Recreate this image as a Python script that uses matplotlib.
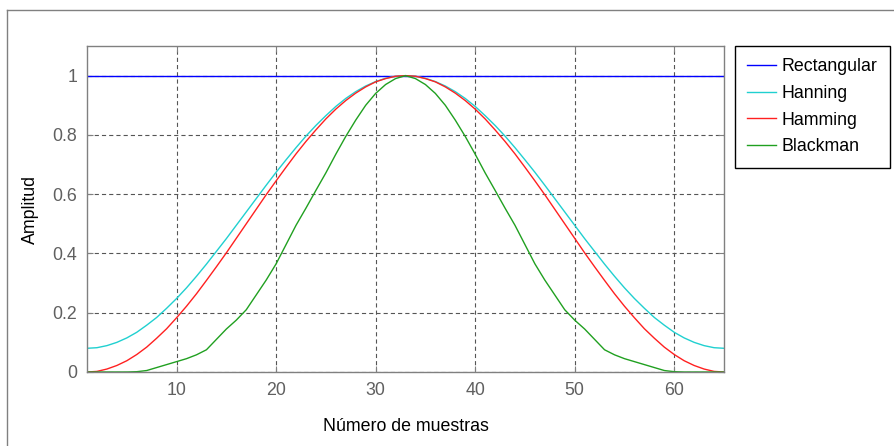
import numpy as np
import matplotlib
matplotlib.use("Agg")
import matplotlib.pyplot as plt
from matplotlib.lines import Line2D

plt.rcParams['font.family'] = ['Liberation Sans', 'DejaVu Sans']
plt.rcParams['lines.scale_dashes'] = False

# sample index of a 65 point window
samples = np.arange(1, 66)

rectangular = [1.0] * len(samples)
hanning = [0.080, 0.082, 0.089, 0.100, 0.115, 0.134, 0.158, 0.184, 0.215, 0.248, 0.284,
           0.323, 0.364, 0.407, 0.450, 0.495, 0.540, 0.585, 0.630, 0.674, 0.716, 0.757,
           0.796, 0.832, 0.865, 0.896, 0.923, 0.946, 0.965, 0.980, 0.991, 0.998, 1.000,
           0.998, 0.991, 0.980, 0.965, 0.946, 0.923, 0.896, 0.865, 0.832, 0.796, 0.757,
           0.716, 0.674, 0.630, 0.585, 0.540, 0.495, 0.450, 0.407, 0.364, 0.323, 0.284,
           0.248, 0.215, 0.184, 0.158, 0.134, 0.115, 0.100, 0.089, 0.082, 0.080]
hamming = [0.000, 0.002, 0.010, 0.022, 0.038, 0.059, 0.084, 0.114, 0.146, 0.183, 0.222,
           0.264, 0.309, 0.355, 0.402, 0.451, 0.500, 0.549, 0.598, 0.645, 0.691, 0.736,
           0.778, 0.817, 0.854, 0.887, 0.916, 0.941, 0.962, 0.979, 0.990, 0.998, 1.000,
           0.998, 0.990, 0.979, 0.962, 0.941, 0.916, 0.887, 0.854, 0.817, 0.778, 0.736,
           0.691, 0.645, 0.598, 0.549, 0.500, 0.451, 0.402, 0.355, 0.309, 0.264, 0.222,
           0.183, 0.146, 0.114, 0.084, 0.059, 0.038, 0.022, 0.010, 0.002, 0.000]
blackman = [0.000, 0.000, 0.000, 0.000, 0.000, 0.001, 0.005, 0.015, 0.025, 0.035, 0.045,
            0.058, 0.075, 0.110, 0.145, 0.175, 0.210, 0.260, 0.310, 0.365, 0.430, 0.495,
            0.553, 0.613, 0.672, 0.735, 0.795, 0.850, 0.900, 0.940, 0.970, 0.990, 1.000,
            0.990, 0.970, 0.940, 0.900, 0.850, 0.795, 0.735, 0.672, 0.613, 0.553, 0.495,
            0.430, 0.365, 0.310, 0.260, 0.210, 0.175, 0.145, 0.110, 0.075, 0.058, 0.045,
            0.035, 0.025, 0.015, 0.005, 0.001, 0.000, 0.000, 0.000, 0.000, 0.000]

names = ['Rectangular', 'Hanning', 'Hamming', 'Blackman']
colors = ['#0000FF', '#20D0D0', '#FF2020', '#20A020']
fs = 12.8

fig = plt.figure(figsize=(8.95, 4.46), dpi=100)
ax = fig.add_axes([87/895, 1-372/446, (724-87)/895, (372-46)/446])

for vals, name, c in zip([rectangular, hanning, hamming, blackman], names, colors):
    ax.plot(samples, vals, color=c, lw=1.0, label=name)

ax.set_xlim(1, 65)
ax.set_ylim(0, 1.1)
ax.set_xticks([10, 20, 30, 40, 50, 60])
ax.set_yticks([0, 0.2, 0.4, 0.6, 0.8, 1])
ax.set_yticklabels(['0', '0.2', '0.4', '0.6', '0.8', '1'])
ax.grid(True, color='#555555', lw=0.8, linestyle=(0, (3, 2.2)))
ax.set_axisbelow(True)
for s in ax.spines.values():
    s.set_color('#808080')
    s.set_linewidth(1.0)
ax.tick_params(direction='in', length=4, color='#808080', labelcolor='#606060',
               labelsize=fs, top=True, right=True, pad=7)
ax.set_xlabel('Número de muestras', fontsize=fs, labelpad=14)
ax.set_ylabel('Amplitud', fontsize=fs, labelpad=10)

leg = fig.legend(loc='upper left', bbox_to_anchor=(735/895, 1-46/446), fontsize=fs,
                 fancybox=False, edgecolor='black', framealpha=1, borderpad=0.7,
                 handlelength=1.63, handletextpad=0.28, labelspacing=0.54, borderaxespad=0)
leg.get_frame().set_linewidth(1.0)

# outer frame of the window
fig.add_artist(Line2D([7/895, 1], [1-10/446, 1-10/446], transform=fig.transFigure, color='#808080', lw=1))
fig.add_artist(Line2D([7/895, 7/895], [0, 1-10/446], transform=fig.transFigure, color='#808080', lw=1))

fig.savefig('out.png', dpi=100)
